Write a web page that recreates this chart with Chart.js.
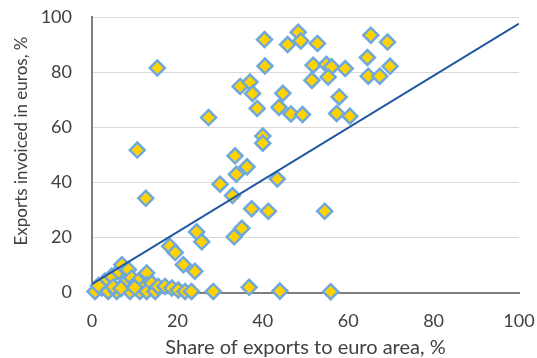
<!DOCTYPE html>
<html>
<head>
<meta charset="utf-8">
<script src="https://cdn.jsdelivr.net/npm/chart.js@4/dist/chart.umd.min.js"></script>
<style>
  html, body { margin: 0; padding: 0; background: #fff; }
  #wrap { width: 537px; height: 358px; }
</style>
</head>
<body>
<div id="wrap"><canvas id="c" width="537" height="358"></canvas></div>
<script>
// Share of exports going to the euro area (x, %) and share invoiced in euros (y, %)
const euroAreaShare = [
  15.3, 40.4, 40.5, 45.8, 48.3, 48.9, 52.8, 65.3, 69.2, 64.5,
  51.8, 54.9, 56.1, 59.3, 69.8, 51.5, 55.3, 64.7, 67.4, 34.7,
  37.0, 37.6, 38.7, 44.7, 43.8, 46.6, 49.3, 57.9, 57.3, 60.4,
  27.3, 10.6, 40.0, 40.0, 33.5, 36.3, 33.8, 43.4, 30.0, 32.9,
  12.6, 37.4, 41.3, 54.5, 35.1, 33.3, 24.5, 25.7, 18.2, 19.5,
  28.4, 36.8, 44.0, 55.9,
  0.7, 2.3, 3.0, 3.8, 4.6, 5.8, 6.2, 7.0, 7.7, 8.5,
  8.9, 9.3, 10.8, 11.2, 12.8, 12.8, 12.8, 14.0, 14.8, 15.5,
  17.1, 18.7, 20.2, 21.8, 23.3, 21.4, 24.1, 5.0, 1.5, 6.8, 10.0
];
const invoicedInEuro = [
  81.5, 91.8, 82.2, 90.0, 94.5, 91.3, 90.4, 93.4, 90.9, 85.3,
  82.5, 82.8, 81.9, 81.3, 82.1, 77.0, 78.2, 78.5, 78.5, 74.8,
  76.4, 72.2, 66.8, 72.3, 67.2, 64.8, 64.6, 71.0, 65.0, 64.0,
  63.5, 51.7, 56.8, 54.2, 49.6, 45.6, 42.9, 41.2, 39.3, 35.2,
  34.2, 30.4, 29.5, 29.5, 23.3, 20.2, 22.0, 18.4, 16.8, 14.5,
  0.4, 1.9, 0.5, 0.3,
  0.4, 1.6, 4.1, 0.4, 5.9, 0.4, 7.7, 10.1, 3.4, 8.3,
  0.4, 5.3, 4.1, 0.4, 7.1, 2.8, 0.4, 3.4, 0.4, 2.2,
  2.2, 1.6, 0.9, 0.4, 0.4, 10.1, 7.7, 2.0, 2.5, 1.5, 1.8
];
// Fitted trend line endpoints
const trendX = [0, 100];
const trendY = [3.0, 97.6];
// Axis ticks
const axisTicks = [0, 20, 40, 60, 80, 100];

const xTitle = 'Share of exports to euro area, %';
const yTitle = 'Exports invoiced in euros, %';

const points = euroAreaShare.map((x, i) => ({ x: x, y: invoicedInEuro[i] }));
const trend = trendX.map((x, i) => ({ x: x, y: trendY[i] }));

const FONT = 'Lato';
const TEXT = '#404040';
const AXIS = '#7f7f7f';

// Rotated y-axis caption, placed a little above the plot's centre
const yCaption = {
  id: 'yCaption',
  afterDraw(chart) {
    const { ctx, chartArea } = chart;
    const cy = chartArea.top + (chartArea.bottom - chartArea.top) * 0.45;
    ctx.save();
    ctx.translate(21.5, cy);
    ctx.rotate(-Math.PI / 2);
    ctx.font = '17px ' + FONT;
    ctx.fillStyle = TEXT;
    ctx.textAlign = 'center';
    ctx.textBaseline = 'middle';
    ctx.fillText(yTitle, 0, 0);
    ctx.restore();
  }
};

new Chart(document.getElementById('c'), {
  data: {
    datasets: [
      {
        type: 'line',
        data: trend,
        borderColor: '#1f56a0',
        borderWidth: 2,
        pointRadius: 0,
        fill: false,
        order: 0
      },
      {
        type: 'scatter',
        data: points,
        pointStyle: 'rectRot',
        pointRadius: 7.5,
        backgroundColor: '#ffd200',
        borderColor: '#6fa8dc',
        borderWidth: 2.5,
        clip: false,
        order: 1
      }
    ]
  },
  options: {
    responsive: false,
    animation: false,
    devicePixelRatio: 1,
    layout: { padding: { top: 17, right: 18, left: 0, bottom: 0 } },
    plugins: { legend: { display: false }, tooltip: { enabled: false } },
    scales: {
      x: {
        type: 'linear',
        min: 0, max: 100,
        afterBuildTicks(s) { s.ticks = axisTicks.map(v => ({ value: v })); },
        afterFit(s) { s.height = 65.5; s.paddingLeft = 0; s.paddingRight = 0; },
        grid: { display: false, drawTicks: false },
        border: { display: true, color: AXIS, width: 2 },
        ticks: { padding: 18, color: TEXT, font: { family: FONT, size: 18 }, maxRotation: 0 },
        title: {
          display: true, text: xTitle, color: TEXT,
          font: { family: FONT, size: 20, lineHeight: 1.0 },
          padding: { top: 0, bottom: 0 }
        }
      },
      y: {
        type: 'linear',
        min: 0, max: 100,
        afterBuildTicks(s) { s.ticks = axisTicks.map(v => ({ value: v })); },
        afterFit(s) { s.width = 92; s.paddingTop = 0; s.paddingBottom = 0; },
        grid: { color: '#d9d9d9', lineWidth: 1, drawTicks: false },
        border: { display: true, color: AXIS, width: 2 },
        ticks: { padding: 20, color: TEXT, font: { family: FONT, size: 18 } }
      }
    }
  },
  plugins: [yCaption]
});
</script>
</body>
</html>
